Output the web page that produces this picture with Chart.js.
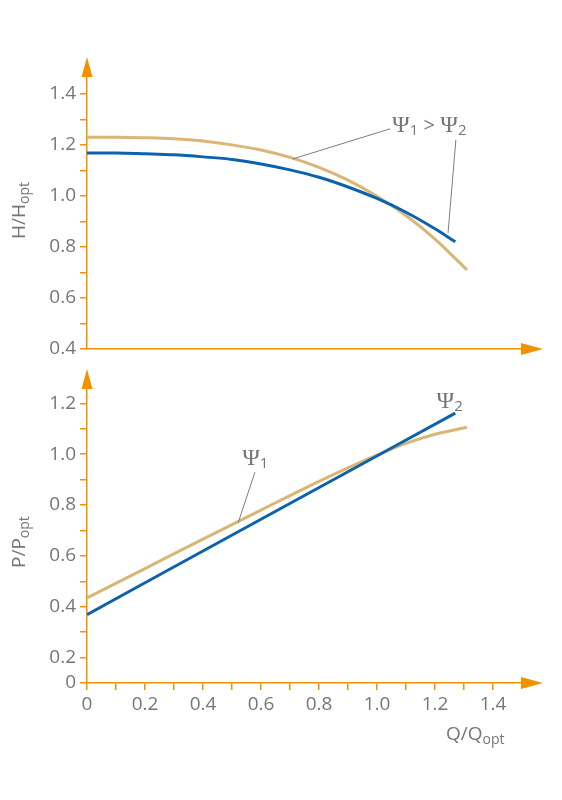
<!DOCTYPE html>
<html>
<head>
<meta charset="utf-8">
<script src="https://cdn.jsdelivr.net/npm/chart.js@4.4.1/dist/chart.umd.min.js"></script>
<style>
  body { margin: 0; background: #fff; }
  #top, #bottom { position: absolute; left: 0; width: 562px; }
  #top { top: 0; height: 360px; }
  #bottom { top: 360px; height: 440px; }
</style>
</head>
<body>
<div id="top"><canvas id="headChart"></canvas></div>
<div id="bottom"><canvas id="powerChart"></canvas></div>
<script>
// head curves H/Hopt against Q/Qopt
var qHead1 = [0, 0.1, 0.2, 0.3, 0.4, 0.5, 0.6, 0.7, 0.8, 0.9, 1.0, 1.1, 1.2, 1.31];
var headPsi1 = [1.23, 1.23, 1.228, 1.224, 1.215, 1.2, 1.18, 1.151, 1.112, 1.062, 0.999, 0.923, 0.831, 0.71];
var qHead2 = [0, 0.1, 0.2, 0.3, 0.4, 0.5, 0.6, 0.7, 0.8, 0.9, 1.0, 1.1, 1.2, 1.27];
var headPsi2 = [1.168, 1.168, 1.165, 1.161, 1.153, 1.143, 1.125, 1.102, 1.073, 1.035, 0.99, 0.936, 0.871, 0.82];

// power curves P/Popt against Q/Qopt
var qPower1 = [0, 0.2, 0.4, 0.6, 0.8, 0.9, 1.0, 1.1, 1.2, 1.31];
var powerPsi1 = [0.435, 0.55, 0.666, 0.78, 0.893, 0.946, 0.996, 1.042, 1.078, 1.106];
var qPower2 = [0, 0.6, 1.27];
var powerPsi2 = [0.369, 0.744, 1.161];

// tick values
var headTicks = [0.4, 0.5, 0.6, 0.7, 0.8, 0.9, 1.0, 1.1, 1.2, 1.3, 1.4];
var powerTicks = [0.1, 0.2, 0.3, 0.4, 0.5, 0.6, 0.7, 0.8, 0.9, 1.0, 1.1, 1.2];
var qTicks = [0, 0.1, 0.2, 0.3, 0.4, 0.5, 0.6, 0.7, 0.8, 0.9, 1.0, 1.1, 1.2, 1.3, 1.4];

var ORANGE = '#f39200', BLUE = '#0d62ad', TAN = '#d9b676', GREY = '#767676';
var SANS = '"Open Sans"', SERIF = '"Liberation Serif"';

function points(xs, ys) {
    return xs.map(function (x, i) { return { x: x, y: ys[i] }; });
}

function even(v) { return Math.round(v * 10) % 2 === 0; }

function drawParts(ctx, x, y, parts) {
    parts.forEach(function (p) {
        ctx.font = p.font;
        ctx.fillText(p.t, x, y + (p.dy || 0));
        x += ctx.measureText(p.t).width;
    });
}

function psi(n) {
    return [
        { t: '\u03A8', font: '24px ' + SERIF },
        { t: n, font: '15px ' + SANS, dy: 3 }
    ];
}

// arrows, axis titles and labels with leader lines
var decor = {
    id: 'decor',
    afterDraw: function (chart, args, opts) {
        var ctx = chart.ctx, a = chart.chartArea;
        var xs = chart.scales.x, ys = chart.scales.y;
        ctx.save();
        ctx.fillStyle = ORANGE;
        ctx.beginPath();
        ctx.moveTo(a.left, a.top - 19);
        ctx.lineTo(a.left - 5.5, a.top + 1);
        ctx.lineTo(a.left + 5.5, a.top + 1);
        ctx.closePath();
        ctx.fill();
        ctx.beginPath();
        ctx.moveTo(a.right + 21, a.bottom);
        ctx.lineTo(a.right - 1, a.bottom - 6);
        ctx.lineTo(a.right - 1, a.bottom + 6);
        ctx.closePath();
        ctx.fill();

        ctx.fillStyle = GREY;
        ctx.textBaseline = 'alphabetic';
        ctx.textAlign = 'left';
        ctx.save();
        ctx.translate(opts.yTitle.x, opts.yTitle.y);
        ctx.rotate(-Math.PI / 2);
        drawParts(ctx, 0, 0, opts.yTitle.parts);
        ctx.restore();
        if (opts.xTitle) drawParts(ctx, opts.xTitle.x, opts.xTitle.y, opts.xTitle.parts);

        ctx.strokeStyle = '#7d7d7d';
        ctx.lineWidth = 1;
        opts.notes.forEach(function (n) {
            drawParts(ctx, xs.getPixelForValue(n.at[0]), ys.getPixelForValue(n.at[1]), n.parts);
            n.leaders.forEach(function (l) {
                ctx.beginPath();
                ctx.moveTo(xs.getPixelForValue(l[0]), ys.getPixelForValue(l[1]));
                ctx.lineTo(xs.getPixelForValue(l[2]), ys.getPixelForValue(l[3]));
                ctx.stroke();
            });
        });
        ctx.restore();
    }
};

function yAxis(min, max, ticks, label) {
    return {
        type: 'linear', min: min, max: max,
        afterBuildTicks: function (s) { s.ticks = ticks.map(function (v) { return { value: v }; }); },
        afterFit: function (s) { s.width = 87; s.paddingTop = 0; s.paddingBottom = 0; },
        border: { color: ORANGE, width: 1.5 },
        grid: { drawOnChartArea: false, color: ORANGE, lineWidth: 1.5, tickLength: 7 },
        ticks: { color: GREY, font: { family: SANS, size: 19 }, padding: 4, autoSkip: false, callback: label }
    };
}

function line(data, color) {
    return {
        data: data, borderColor: color, borderWidth: 3, pointRadius: 0,
        fill: false, cubicInterpolationMode: 'monotone'
    };
}

var common = {
    responsive: true,
    maintainAspectRatio: false,
    animation: false,
    events: []
};

new Chart(document.getElementById('headChart'), {
    type: 'line',
    data: {
        datasets: [
            line(points(qHead2, headPsi2), BLUE),
            line(points(qHead1, headPsi1), TAN)
        ]
    },
    options: Object.assign({}, common, {
        layout: { padding: { top: 76, right: 40, left: 0, bottom: 0 } },
        scales: {
            x: {
                type: 'linear', min: 0, max: 1.5,
                afterFit: function (s) { s.height = 11; },
                border: { color: ORANGE, width: 1.5 },
                grid: { drawOnChartArea: false, drawTicks: false, color: ORANGE },
                ticks: { display: false }
            },
            y: yAxis(0.4, 1.47, headTicks, function (v) { return even(v) ? v.toFixed(1) : ''; })
        },
        plugins: {
            legend: { display: false },
            tooltip: { enabled: false },
            decor: {
                yTitle: { x: 25, y: 239, parts: [
                    { t: 'H/H', font: '19px ' + SANS },
                    { t: 'opt', font: '14px ' + SANS, dy: 4 }
                ] },
                notes: [
                    { at: [1.052, 1.251],
                      parts: psi('1').concat([{ t: ' > ', font: '20px ' + SANS }], psi('2')),
                      leaders: [[1.045, 1.263, 0.71, 1.145], [1.272, 1.22, 1.245, 0.855]] }
                ]
            }
        }
    }),
    plugins: [decor]
});

new Chart(document.getElementById('powerChart'), {
    type: 'line',
    data: {
        datasets: [
            line(points(qPower2, powerPsi2), BLUE),
            line(points(qPower1, powerPsi1), TAN)
        ]
    },
    options: Object.assign({}, common, {
        layout: { padding: { top: 28, right: 40, left: 0, bottom: 0 } },
        scales: {
            x: {
                type: 'linear', min: 0, max: 1.5,
                afterBuildTicks: function (s) { s.ticks = qTicks.map(function (v) { return { value: v }; }); },
                afterFit: function (s) { s.height = 117; },
                border: { color: ORANGE, width: 1.5 },
                grid: { drawOnChartArea: false, color: ORANGE, lineWidth: 1.5, tickLength: 7 },
                ticks: {
                    color: GREY, font: { family: SANS, size: 19 }, padding: 3,
                    maxRotation: 0, autoSkip: false,
                    callback: function (v) { return even(v) ? (v === 0 ? '0' : v.toFixed(1)) : ''; }
                }
            },
            // the axis is broken below 0.2, the bottom line stands for 0
            y: yAxis(0.1, 1.26, powerTicks, function (v) {
                if (v < 0.15) return '0';
                return even(v) ? v.toFixed(1) : '';
            })
        },
        plugins: {
            legend: { display: false },
            tooltip: { enabled: false },
            decor: {
                yTitle: { x: 25, y: 208, parts: [
                    { t: 'P/P', font: '19px ' + SANS },
                    { t: 'opt', font: '14px ' + SANS, dy: 4 }
                ] },
                xTitle: { x: 446, y: 380, parts: [
                    { t: 'Q/Q', font: '19px ' + SANS },
                    { t: 'opt', font: '14px ' + SANS, dy: 4 }
                ] },
                notes: [
                    { at: [0.535, 0.957], parts: psi('1'), leaders: [[0.579, 0.929, 0.521, 0.729]] },
                    { at: [1.205, 1.18], parts: psi('2'), leaders: [] }
                ]
            }
        }
    }),
    plugins: [decor]
});
</script>
</body>
</html>
